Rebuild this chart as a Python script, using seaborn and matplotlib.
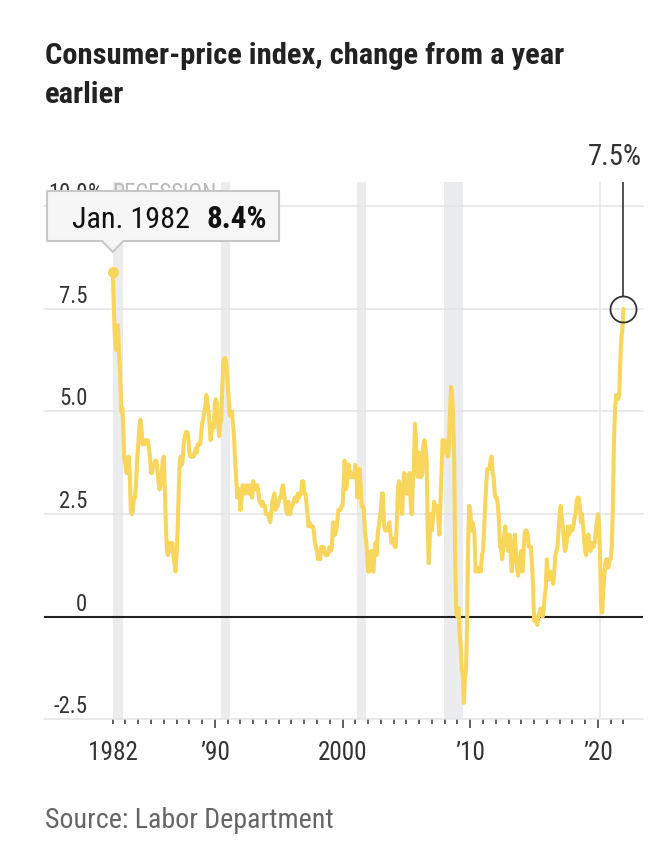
import numpy as np
import pandas as pd
import matplotlib
matplotlib.use("Agg")
import matplotlib.pyplot as plt
import matplotlib.transforms as mtransforms
from matplotlib.patches import Polygon
from matplotlib import font_manager as fm
import seaborn as sns

# ---------------- data (CPI, % change from a year earlier, monthly) ----------------
start_month = "1982-01-01"
cpi_1982_1989 = [
    8.4, 7.6, 6.8, 6.5, 6.7, 7.1, 6.4, 5.9, 5.0, 5.1, 4.6, 3.8,
    3.7, 3.5, 3.6, 3.9, 3.5, 2.6, 2.5, 2.6, 2.9, 2.9, 3.3, 3.8,
    4.2, 4.6, 4.8, 4.6, 4.2, 4.2, 4.2, 4.3, 4.3, 4.3, 4.1, 3.9,
    3.5, 3.5, 3.7, 3.7, 3.8, 3.8, 3.6, 3.3, 3.1, 3.2, 3.5, 3.8,
    3.9, 3.1, 2.2, 1.6, 1.5, 1.8, 1.6, 1.6, 1.8, 1.5, 1.3, 1.1,
    1.5, 2.1, 3.0, 3.8, 3.9, 3.7, 3.9, 4.3, 4.4, 4.5, 4.5, 4.4,
    4.0, 3.9, 3.9, 3.9, 3.9, 4.0, 4.1, 4.0, 4.2, 4.2, 4.2, 4.4,
    4.7, 4.8, 5.0, 5.1, 5.4, 5.2, 5.0, 4.7, 4.3, 4.5, 4.7, 4.6,
]
cpi_1990_1999 = [
    5.2, 5.3, 5.2, 4.7, 4.4, 4.7, 4.8, 5.6, 6.2, 6.3, 6.3, 6.1,
    5.7, 5.3, 4.9, 4.9, 5.0, 4.7, 4.4, 3.8, 3.4, 2.9, 3.0, 3.1,
    2.6, 2.8, 3.2, 3.2, 3.0, 3.1, 3.2, 3.1, 3.0, 3.2, 3.0, 2.9,
    3.3, 3.2, 3.1, 3.2, 3.2, 3.0, 2.8, 2.8, 2.7, 2.8, 2.7, 2.7,
    2.5, 2.5, 2.5, 2.4, 2.3, 2.5, 2.8, 2.9, 3.0, 2.6, 2.7, 2.7,
    2.8, 2.9, 2.9, 3.1, 3.2, 3.0, 2.8, 2.6, 2.5, 2.8, 2.6, 2.5,
    2.7, 2.7, 2.8, 2.9, 2.9, 2.8, 3.0, 2.9, 3.0, 3.0, 3.3, 3.3,
    3.0, 3.0, 2.8, 2.5, 2.2, 2.3, 2.2, 2.2, 2.2, 2.1, 1.8, 1.7,
    1.6, 1.4, 1.4, 1.4, 1.7, 1.7, 1.7, 1.6, 1.5, 1.5, 1.5, 1.6,
    1.7, 1.6, 1.7, 2.3, 2.1, 2.0, 2.1, 2.3, 2.6, 2.6, 2.6, 2.7,
]
cpi_2000_2009 = [
    2.7, 3.2, 3.8, 3.1, 3.2, 3.7, 3.7, 3.4, 3.5, 3.4, 3.4, 3.4,
    3.7, 3.5, 2.9, 3.3, 3.6, 3.2, 2.7, 2.7, 2.6, 2.1, 1.9, 1.6,
    1.1, 1.1, 1.5, 1.6, 1.2, 1.1, 1.5, 1.8, 1.5, 2.0, 2.2, 2.4,
    2.6, 3.0, 3.0, 2.2, 2.1, 2.1, 2.1, 2.2, 2.3, 2.0, 1.8, 1.9,
    1.9, 1.7, 1.7, 2.3, 3.1, 3.3, 3.0, 2.7, 2.5, 3.2, 3.5, 3.3,
    3.0, 3.0, 3.1, 3.5, 2.8, 2.5, 3.2, 3.6, 4.7, 4.3, 3.5, 3.4,
    4.0, 3.6, 3.4, 3.5, 4.2, 4.3, 4.1, 3.8, 2.1, 1.3, 2.0, 2.5,
    2.1, 2.4, 2.8, 2.6, 2.7, 2.7, 2.4, 2.0, 2.8, 3.5, 4.3, 4.1,
    4.3, 4.0, 4.0, 3.9, 4.2, 5.0, 5.6, 5.4, 4.9, 3.7, 1.1, 0.1,
    0.0, 0.2, -0.4, -0.7, -1.3, -1.4, -2.1, -1.5, -1.3, -0.2, 1.8, 2.7,
]
cpi_2010_2019 = [
    2.6, 2.1, 2.3, 2.2, 2.0, 1.1, 1.2, 1.1, 1.1, 1.2, 1.1, 1.5,
    1.6, 2.1, 2.7, 3.2, 3.6, 3.6, 3.6, 3.8, 3.9, 3.5, 3.4, 3.0,
    2.9, 2.9, 2.7, 2.3, 1.7, 1.7, 1.4, 1.7, 2.0, 2.2, 1.8, 1.7,
    1.6, 2.0, 1.5, 1.1, 1.4, 1.8, 2.0, 1.5, 1.2, 1.0, 1.2, 1.5,
    1.6, 1.1, 1.5, 2.0, 2.1, 2.1, 2.0, 1.7, 1.7, 1.7, 1.3, 0.8,
    -0.1, 0.0, -0.1, -0.2, 0.0, 0.1, 0.2, 0.2, 0.0, 0.2, 0.5, 0.7,
    1.4, 1.0, 0.9, 1.1, 1.0, 1.0, 0.8, 1.1, 1.5, 1.6, 1.7, 2.1,
    2.5, 2.7, 2.4, 2.2, 1.9, 1.6, 1.7, 1.9, 2.2, 2.0, 2.2, 2.1,
    2.1, 2.2, 2.4, 2.5, 2.8, 2.9, 2.9, 2.7, 2.3, 2.5, 2.2, 1.9,
    1.6, 1.5, 1.9, 2.0, 1.8, 1.6, 1.8, 1.7, 1.7, 1.8, 2.1, 2.3,
]
cpi_2020_2022 = [
    2.5, 2.3, 1.5, 0.3, 0.1, 0.6, 1.0, 1.3, 1.4, 1.2, 1.2, 1.4,
    1.4, 1.7, 2.6, 4.2, 5.0, 5.4, 5.4, 5.3, 5.4, 6.2, 6.8, 7.0,
    7.5,
]

recession_start = ["1981-07", "1990-07", "2001-03", "2007-12", "2020-02"]
recession_end = ["1982-11", "1991-03", "2001-11", "2009-06", "2020-04"]

y_ticks = [-2.5, 0, 2.5, 5.0, 7.5, 10.0]
y_tick_labels = ["-2.5", "0", "2.5", "5.0", "7.5", "10.0"]
x_label_years = [1982, 1990, 2000, 2010, 2020]
x_labels = ["1982", "\u201990", "2000", "\u201910", "\u201920"]
tick_years = list(range(1982, 2023))

title_lines = ["Consumer-price index, change from a year", "earlier"]
source_text = "Source: Labor Department"
recession_label = "RECESSION"

# ---------------- style ----------------
W, H, DPI = 670, 862, 100
LINE = "#f8d55b"
GRID = "#e3e3e3"
BAND = "#ebecee"
TXT = "#333333"

sns.set_theme(style="white")
avail = {f.name for f in fm.fontManager.ttflist}


def pick(cands):
    for n in cands:
        if n in avail:
            return n
    return "DejaVu Sans"


FONT = pick(["Liberation Sans Narrow", "Roboto Condensed", "Open Sans Condensed",
             "Lato", "Roboto", "Liberation Sans"])
plt.rcParams["font.family"] = [FONT, "DejaVu Sans"]

fig = plt.figure(figsize=(W / DPI, H / DPI), dpi=DPI)
fig.patch.set_facecolor("white")
renderer = fig.canvas.get_renderer()


def size_for(text, width_px, cap_px, weight="normal"):
    base = cap_px / 0.72 * 72 / DPI
    t = fig.text(0, 0, text, fontsize=base, fontweight=weight)
    w = t.get_window_extent(renderer).width
    t.remove()
    return min(base * 1.06, base * width_px / w)


def fx(x):
    return x / W


def fy(y):
    return 1 - y / H


# axes region (pixels, top-origin)
AX_L, AX_R, AX_T, AX_B = 44, 643, 183, 720.3
ax = fig.add_axes([fx(AX_L), fy(AX_B), (AX_R - AX_L) / W, (AX_B - AX_T) / H])
ax.set_facecolor("white")
XMIN, XMAX = 1976.62, 2023.53
YMIN, YMAX = -2.5, 10.59
ax.set_xlim(XMIN, XMAX)
ax.set_ylim(YMIN, YMAX)
ax.grid(False)
for sp in ax.spines.values():
    sp.set_visible(False)

# data frame
cpi = np.array(cpi_1982_1989 + cpi_1990_1999 + cpi_2000_2009 + cpi_2010_2019 + cpi_2020_2022)
dates = pd.date_range(start_month, periods=len(cpi), freq="MS")
df = pd.DataFrame({"year": dates.year + (dates.month - 1) / 12.0, "cpi": cpi})
x0, v0 = df["year"].iloc[0], df["cpi"].iloc[0]
x1, v1 = df["year"].iloc[-1], df["cpi"].iloc[-1]


def frac(s):
    d = pd.Timestamp(s)
    return d.year + (d.month - 1) / 12.0


# recession bands
for s, e in zip(recession_start, recession_end):
    ax.axvspan(max(frac(s), x0), frac(e), color=BAND, lw=0, zorder=0)

# gridlines
for yv in y_ticks:
    if yv == 0:
        ax.axhline(0, color="#222222", lw=1.5, zorder=3)
    else:
        ax.axhline(yv, color=GRID, lw=1.1, zorder=1, clip_on=False)

# line
sns.lineplot(data=df, x="year", y="cpi", ax=ax, color=LINE, linewidth=2.9,
             zorder=4, legend=False)
ax.set_xlabel("")
ax.set_ylabel("")
ax.plot([x0], [v0], marker="o", ms=7.0, color=LINE, mec=LINE, zorder=5)

# end marker: circle + stem + label
px_per_unit = (AX_B - AX_T) / (YMAX - YMIN)
r_px = 13
ax.plot([x1], [v1], marker="o", ms=2 * r_px * 72 / DPI, mfc="none", mec="#333333",
        mew=1.3, zorder=6)
ax.plot([x1, x1], [v1 + r_px / px_per_unit, YMAX], color="#333333", lw=1.2,
        zorder=6, clip_on=False, solid_capstyle="butt")

# x ticks
s_x = size_for("1982", 50, 18.6)
ax.set_xticks(x_label_years)
ax.set_xticklabels(x_labels)
ax.set_xticks([y for y in tick_years if y not in x_label_years], minor=True)
ax.tick_params(axis="x", which="major", bottom=True, length=9 * 72 / DPI,
               width=1.1, color="#333333", pad=8.2, labelsize=s_x, labelcolor=TXT)
ax.tick_params(axis="x", which="minor", bottom=True, length=5 * 72 / DPI,
               width=1.1, color="#333333")
ax.xaxis.get_major_ticks()[0].tick1line.set_markersize(5 * 72 / DPI)
ax.tick_params(axis="y", left=False, labelleft=False)

# y labels (right aligned at x=87px, 7px above gridline)
s_y = size_for("7.5", 30.6, 15.5)
ylab_tr = mtransforms.offset_copy(ax.get_yaxis_transform(), fig=fig, x=0, y=7,
                                  units="dots")
xl = (87.3 - AX_L) / (AX_R - AX_L)
for yv, lab in zip(y_ticks, y_tick_labels):
    ax.text(xl, yv, lab, transform=ylab_tr, ha="right", va="baseline",
            fontsize=s_y, color=TXT, zorder=7)
    if yv == max(y_ticks):
        ax.text(xl, yv, "%", transform=ylab_tr, ha="left", va="baseline",
                fontsize=s_y, color=TXT, zorder=7)
# recession label
s_rec = size_for(recession_label, 113.7, 15.5)
rec_tr = mtransforms.offset_copy(ax.transData, fig=fig, x=0, y=7, units="dots")
ax.text(x0, max(y_ticks), recession_label, transform=rec_tr, ha="left",
        va="baseline", fontsize=s_rec, color="#b8b8b8", zorder=7)

# tooltip box with pointer anchored on first data point
dx, dy = ax.transData.transform((x0, v0))
apex_x = dx
apex_y = H - dy - 20
bl, br, bt, bb = 47, 279, 192, 242
hw = 10.7
verts = [(bl, bt), (br, bt), (br, bb), (apex_x + hw, bb), (apex_x, apex_y),
         (apex_x - hw, bb), (bl, bb)]
poly = Polygon([(fx(a), fy(b)) for a, b in verts], closed=True,
               transform=fig.transFigure, facecolor="#f6f6f6",
               edgecolor="#c8c8c8", lw=1.5, zorder=20)
fig.add_artist(poly)
month_lbl = dates[0].strftime("%b.") + " " + str(dates[0].year)
s_tip = size_for(month_lbl, 118, 21.6)
fig.text(fx(71.7), fy(228.3), month_lbl, fontsize=s_tip, color="#111111",
         va="baseline", ha="left", zorder=21)
val_lbl = f"{v0:.1f}%"
s_tipb = size_for(val_lbl, 60.6, 21.6, "bold")
fig.text(fx(267.3), fy(228.3), val_lbl, fontsize=s_tipb, fontweight="bold",
         color="#111111", va="baseline", ha="right", zorder=21)

# end label
end_lbl = f"{v1:.1f}%"
s_end = size_for(end_lbl, 54, 21.7)
fig.text(fx(641.7), fy(165), end_lbl, fontsize=s_end, color=TXT, va="baseline",
         ha="right")

# title
s_title = size_for(title_lines[0], 560, 20.7, "bold")
fig.text(fx(45), fy(64), title_lines[0], fontsize=s_title, fontweight="bold",
         color="#222222", va="baseline", ha="left")
fig.text(fx(45), fy(103.3), title_lines[1], fontsize=s_title, fontweight="bold",
         color="#222222", va="baseline", ha="left")

# source
s_src = size_for(source_text, 293, 19)
fig.text(fx(45), fy(828), source_text, fontsize=s_src, color="#666666",
         va="baseline", ha="left")

fig.savefig("out.png", dpi=DPI, facecolor="white")
